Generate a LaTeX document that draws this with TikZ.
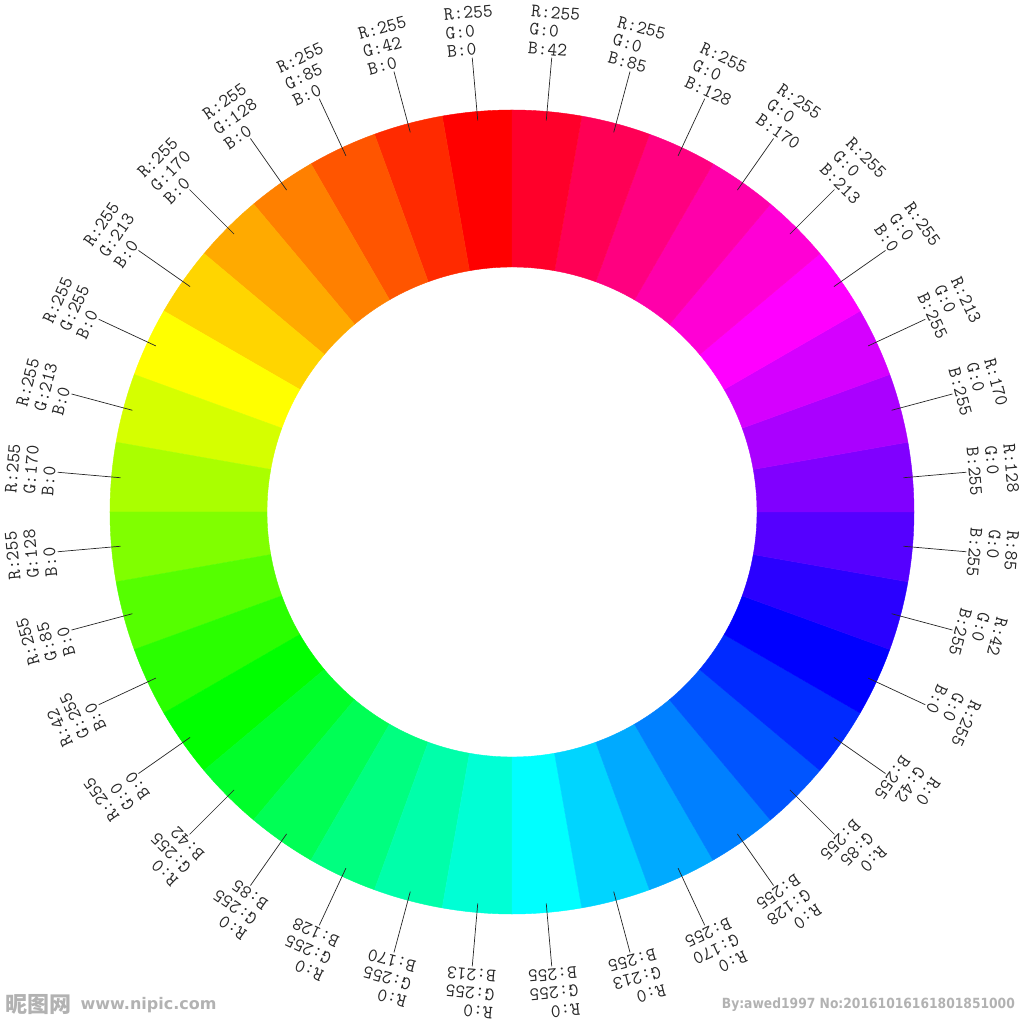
\documentclass[tikz,border=0pt]{standalone}
\usepackage{fontspec}
\usepackage{xcolor}
\usepackage{tikz}
\usetikzlibrary{positioning}
\newfontfamily\cjkfont{Noto Sans CJK SC}
\newfontfamily\markfont{DejaVu Sans}

\begin{document}
\begin{tikzpicture}[x=1pt, y=1pt,
    leader/.style={black!85, line width=0.7pt},
    rgblabel/.style={anchor=south, inner sep=2pt, align=left, text=black!85,
      font=\fontsize{19}{18.5}\selectfont\ttfamily},
    watermark/.style={text=black!30, inner sep=0pt}]
    \useasboundingbox (-512,-512) rectangle (512,512);
    % 36 sectors of 10 degrees, red at the top, going round anti-clockwise
    \foreach \rv/\gv/\bv/\txt [count=\i from 0] in {
        255/0/0/{R:255\\G:0\\B:0},     255/42/0/{R:255\\G:42\\B:0},
        255/85/0/{R:255\\G:85\\B:0},   255/128/0/{R:255\\G:128\\B:0},
        255/170/0/{R:255\\G:170\\B:0}, 255/213/0/{R:255\\G:213\\B:0},
        255/255/0/{R:255\\G:255\\B:0}, 213/255/0/{R:255\\G:213\\B:0},
        170/255/0/{R:255\\G:170\\B:0}, 128/255/0/{R:255\\G:128\\B:0},
        85/255/0/{R:255\\G:85\\B:0},   42/255/0/{R:42\\G:255\\B:0},
        0/255/0/{R:255\\G:0\\B:0},     0/255/42/{R:0\\G:255\\B:42},
        0/255/85/{R:0\\G:255\\B:85},   0/255/128/{R:0\\G:255\\B:128},
        0/255/170/{R:0\\G:255\\B:170}, 0/255/213/{R:0\\G:255\\B:213},
        0/255/255/{R:0\\G:255\\B:255}, 0/213/255/{R:0\\G:213\\B:255},
        0/170/255/{R:0\\G:170\\B:255}, 0/128/255/{R:0\\G:128\\B:255},
        0/85/255/{R:0\\G:85\\B:255},   0/42/255/{R:0\\G:42\\B:255},
        0/0/255/{R:255\\G:0\\B:0},     42/0/255/{R:42\\G:0\\B:255},
        85/0/255/{R:85\\G:0\\B:255},   128/0/255/{R:128\\G:0\\B:255},
        170/0/255/{R:170\\G:0\\B:255}, 213/0/255/{R:213\\G:0\\B:255},
        255/0/255/{R:255\\G:0\\B:0},   255/0/213/{R:255\\G:0\\B:213},
        255/0/170/{R:255\\G:0\\B:170}, 255/0/128/{R:255\\G:0\\B:128},
        255/0/85/{R:255\\G:0\\B:85},   255/0/42/{R:255\\G:0\\B:42}}{
        \pgfmathsetmacro{\a}{95+10*\i}
        \definecolor{seg}{RGB}{\rv,\gv,\bv}
        \fill[seg, draw=seg, line width=0.4pt]
            (\a-5:402) arc[start angle=\a-5, end angle=\a+5, radius=402]
            -- (\a+5:245) arc[start angle=\a+5, end angle=\a-5, radius=245] -- cycle;
        \coordinate (p\i) at (\a:393);
        \node[rgblabel, rotate=\a-90] (l\i) at (\a:456) {\txt};
        \draw[leader] (p\i) -- (l\i.south);
    }
    % site marks at the bottom
    \node[watermark, anchor=west, font=\cjkfont\bfseries\fontsize{22}{22}\selectfont]
        (wmsite) at (-507,-493) {昵图网};
    \node[watermark, right=9pt of wmsite, font=\markfont\bfseries\fontsize{16}{16}\selectfont]
        (wmurl) {www.nipic.com};
    \node[watermark, anchor=east, xscale=0.88, font=\markfont\bfseries\fontsize{14}{14}\selectfont]
        (wmid) at (503,-493) {By:awed1997 No:20161016161801851000};
\end{tikzpicture}
\end{document}
